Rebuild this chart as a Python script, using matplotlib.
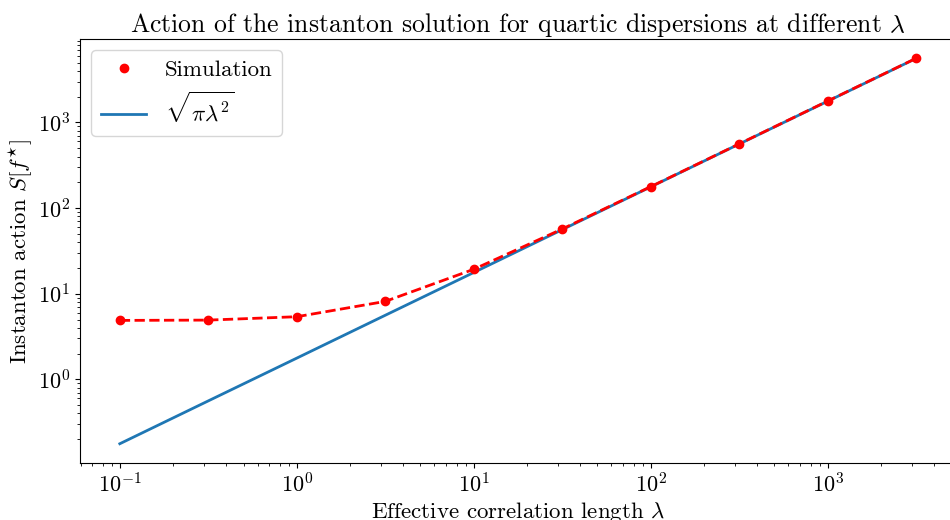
import matplotlib
matplotlib.use("Agg")
import matplotlib.pyplot as plt

plt.rcParams['font.family'] = ['cmr10', 'DejaVu Serif']
plt.rcParams['mathtext.fontset'] = 'cm'
plt.rcParams['axes.formatter.use_mathtext'] = True
plt.rcParams['axes.unicode_minus'] = False

lam = [0.1, 0.316, 1.0, 3.16, 10.0, 31.6, 100.0, 316.0, 1000.0, 3162.0]
sim = [4.88, 4.92, 5.39, 8.13, 19.3, 57.0, 178.0, 562.0, 1780.0, 5620.0]
theory = [0.177, 0.56, 1.77, 5.6, 17.7, 56.0, 177.0, 560.0, 1772.0, 5605.0]

fig = plt.figure(figsize=(9.5, 5.2), dpi=100)
ax = fig.add_axes([80/950, (520-463)/520, (956-80)/950, (463-39)/520])

ax.plot(lam, theory, color='#1f77b4', lw=2, label=r'$\sqrt{\pi\lambda^2}$')
ax.plot(lam, sim, 'r--', lw=2)
ax.plot(lam, sim, 'o', color='red', ms=6, label='Simulation')

ax.set_xscale('log')
ax.set_yscale('log')
ax.set_xlim(10**-1.225, 10**3.725)
ax.set_ylim(10**-0.977, 10**3.975)

ax.set_title(r'Action of the instanton solution for quartic dispersions at different $\lambda$', fontsize=18.5, pad=5)
ax.set_xlabel(r'Effective correlation length $\lambda$', fontsize=16.5, labelpad=2)
ax.set_ylabel(r'Instanton action $S[f^{\star}]$', fontsize=16.5, labelpad=2)
ax.tick_params(labelsize=16)

handles, labels = ax.get_legend_handles_labels()
ax.legend([handles[1], handles[0]], [labels[1], labels[0]], loc='upper left', fontsize=16.5)

fig.savefig('out.png', dpi=100)
